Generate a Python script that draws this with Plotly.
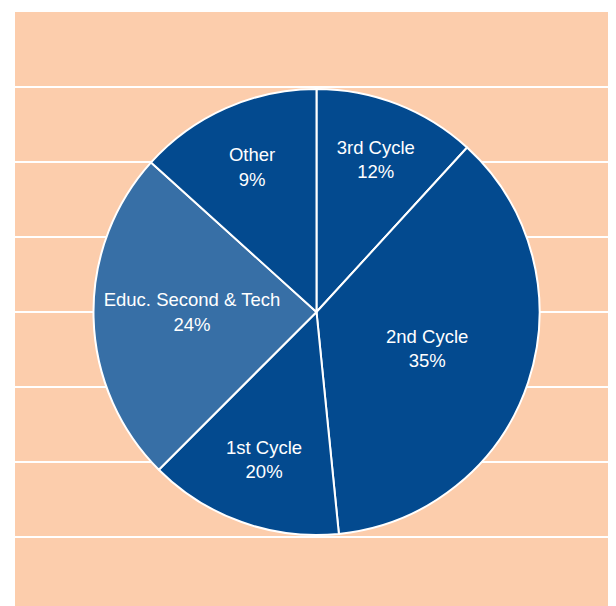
import plotly.graph_objects as go

# slices, clockwise from 12 o'clock
labels = ["3rd Cycle", "2nd Cycle", "1st Cycle", "Educ. Second & Tech", "Other"]
values = [11.8, 36.6, 14.1, 24.2, 13.3]  # slice sizes as drawn
shown_pct = ["12%", "35%", "20%", "24%", "9%"]  # percentages printed on the slices
slice_colors = ["#034A8F", "#034A8F", "#034A8F", "#376FA6", "#034A8F"]

PEACH = "#FCCDAC"

fig = go.Figure()

# empty cartesian trace so the peach plot area and its white gridlines get drawn
fig.add_trace(go.Scatter(x=[None], y=[None], showlegend=False, hoverinfo="skip"))

fig.add_trace(
    go.Pie(
        labels=labels,
        values=values,
        text=shown_pct,
        texttemplate="%{label}<br>%{text}",
        textposition="inside",
        insidetextorientation="horizontal",
        sort=False,
        direction="clockwise",
        rotation=0,
        marker=dict(colors=slice_colors, line=dict(color="white", width=2)),
        textfont=dict(family="Liberation Sans, Arial, sans-serif", size=18.5, color="white"),
        domain=dict(x=[0.1272, 0.8501], y=[0.1426, 0.8738]),
        showlegend=False,
    )
)

fig.update_layout(
    width=624,
    height=614,
    margin=dict(l=7, r=0, t=4, b=0),
    paper_bgcolor="white",
    plot_bgcolor=PEACH,
    font=dict(family="Liberation Sans, Arial, sans-serif"),
    uniformtext=dict(mode="show", minsize=18.5),
    xaxis=dict(range=[0, 1], showgrid=False, zeroline=False, showticklabels=False, ticks=""),
    yaxis=dict(
        range=[-0.133, 8],
        tick0=0,
        dtick=1,
        showgrid=True,
        gridcolor="white",
        gridwidth=2,
        zeroline=False,
        showticklabels=False,
        ticks="",
    ),
)

fig.write_html("out.html")
